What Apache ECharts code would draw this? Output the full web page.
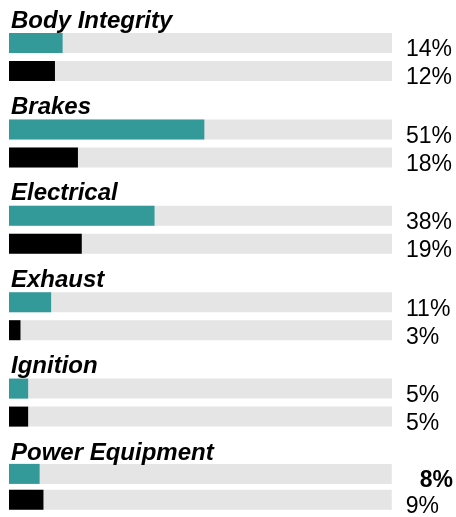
<!DOCTYPE html>
<html>
<head>
<meta charset="utf-8">
<script src="https://cdn.jsdelivr.net/npm/echarts@6/dist/echarts.min.js"></script>
<style>
html,body{margin:0;padding:0;background:#fff;}
#chart{width:456px;height:517px;}
</style>
</head>
<body>
<div id="chart"></div>
<script>
// ---- data ----
const categories = ['Body Integrity', 'Brakes', 'Electrical', 'Exhaust', 'Ignition', 'Power Equipment'];
const tealValues = [14, 51, 38, 11, 5, 8];
const blackValues = [12, 18, 19, 3, 5, 9];
const valueMax = 100;
// label shown in bold: [group index, row index]
const boldLabel = [5, 0];

// ---- layout / style ----
const TEAL = '#339999';
const TRACK = '#e5e5e5';
const FONT = "'Liberation Sans'";
const firstBarTop = 33;
const groupStep = 86.4;
const barW = 20;
const bandH = 28;

const chart = echarts.init(document.getElementById('chart'), null, {renderer: 'canvas'});

const grids = [], xAxes = [], yAxes = [], series = [], titles = [];
categories.forEach((cat, i) => {
  const barTop = firstBarTop + i * groupStep;
  grids.push({left: 9, width: 383, top: barTop - (bandH - barW) / 2, height: bandH * 2, containLabel: false});
  xAxes.push({gridIndex: i, type: 'value', min: 0, max: valueMax, show: false});
  const rows = ['a', 'b'];
  const labels = [tealValues[i] + '%', blackValues[i] + '%'];
  yAxes.push({gridIndex: i, type: 'category', data: rows, inverse: true, show: false});
  yAxes.push({
    gridIndex: i, type: 'category', data: labels, inverse: true, position: 'right',
    axisLine: {show: false}, axisTick: {show: false}, splitLine: {show: false},
    axisLabel: {
      interval: 0, hideOverlap: false,
      margin: 14,
      fontFamily: FONT, fontSize: 23, color: '#000',
      padding: [14, 0, 0, 0],
      formatter: (v, idx) => (boldLabel[0] === i && boldLabel[1] === idx) ? '{b|' + v + '}' : v,
      rich: {b: {fontFamily: FONT, fontSize: 23, fontWeight: 'bold', color: '#000', padding: [0, 0, 0, 14]}}
    }
  });
  series.push({
    type: 'bar', xAxisIndex: i, yAxisIndex: i * 2, barWidth: barW,
    showBackground: true, backgroundStyle: {color: TRACK},
    data: [
      {value: tealValues[i], itemStyle: {color: TEAL}},
      {value: blackValues[i], itemStyle: {color: '#000000'}}
    ],
    animation: false
  });
  titles.push({
    text: cat, left: 11, top: barTop - 24, padding: 0,
    textStyle: {fontFamily: FONT, fontSize: 24, fontWeight: 'bold', fontStyle: 'italic', color: '#000'}
  });
});

chart.setOption({
  animation: false,
  backgroundColor: '#fff',
  title: titles,
  grid: grids,
  xAxis: xAxes,
  yAxis: yAxes,
  series: series
});
</script>
</body>
</html>
